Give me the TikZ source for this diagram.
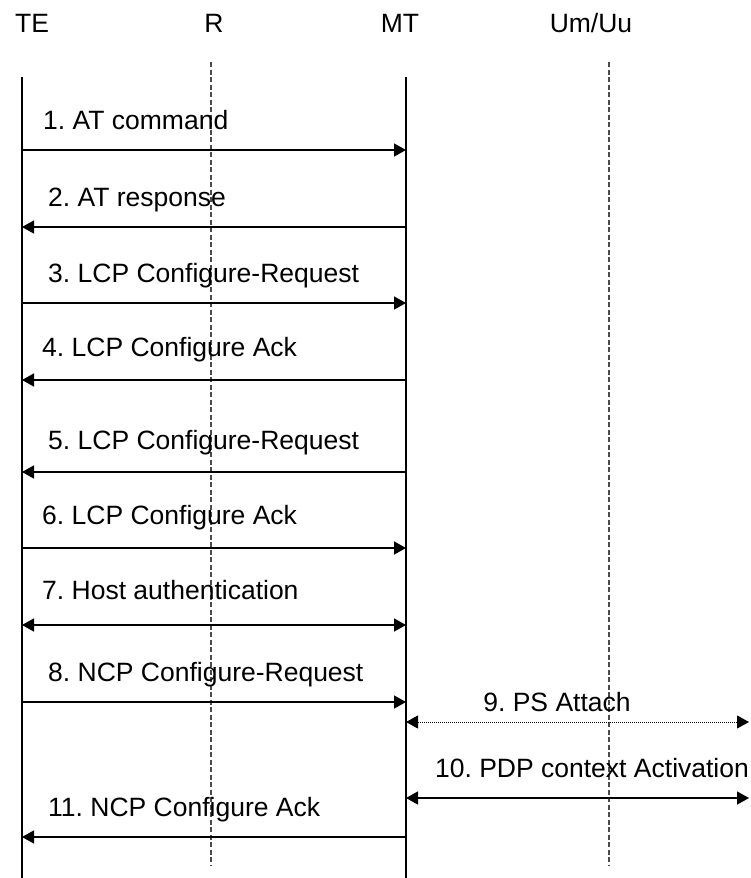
\documentclass[tikz,border=0pt]{standalone}
\usepackage{fontspec}
\setmainfont{Liberation Sans}
\usetikzlibrary{arrows.meta, positioning}
\frenchspacing

\begin{document}
\begin{tikzpicture}[x=1pt, y=-1pt,
    entity/.style={font=\fontsize{26.5}{30}\selectfont, inner sep=0pt, anchor=base},
    lbl/.style={font=\fontsize{26.5}{30}\selectfont, inner sep=0pt, anchor=base west},
    life/.style={line width=2pt},
    iface/.style={line width=1.1pt, gray!60!black, dash pattern=on 5pt off 2.5pt},
    msg/.style={line width=1.6pt, -{Triangle[length=12pt,width=13pt]}},
    dmsg/.style={msg, {Triangle[length=12pt,width=13pt]}-{Triangle[length=12pt,width=13pt]}},
    ]
    \useasboundingbox (0,0) rectangle (750,878);

    % entities
    \node[entity] (TE) at (32,32) {TE};
    \node[entity] (R) at (214,32) {R};
    \node[entity] (MT) at (400,32) {MT};
    \node[entity] (Um) at (591,32) {Um/Uu};

    % life lines and interfaces
    \coordinate (TEtop) at (22,77);
    \coordinate (TEbot) at (22,878);
    \coordinate (MTtop) at (406,77);
    \coordinate (MTbot) at (406,878);
    \coordinate (Rtop) at (211,62);
    \coordinate (Rbot) at (211,865);
    \coordinate (Umtop) at (609,62);
    \coordinate (Umbot) at (609,865);
    \coordinate (edge) at (749,0);

    \draw[iface] (Rtop) -- (Rbot);
    \draw[iface] (Umtop) -- (Umbot);
    \draw[life] (TEtop) -- (TEbot);
    \draw[life] (MTtop) -- (MTbot);

    % message rows
    \coordinate (r1) at (0,150);
    \coordinate (r2) at (0,227);
    \coordinate (r3) at (0,303);
    \coordinate (r4) at (0,380);
    \coordinate (r5) at (0,472);
    \coordinate (r6) at (0,548);
    \coordinate (r7) at (0,625);
    \coordinate (r8) at (0,702);
    \coordinate (r9) at (0,722);
    \coordinate (r10) at (0,798);
    \coordinate (r11) at (0,837);

    \draw[msg] (TEtop |- r1) -- (MTtop |- r1);
    \draw[msg] (MTtop |- r2) -- (TEtop |- r2);
    \draw[msg] (TEtop |- r3) -- (MTtop |- r3);
    \draw[msg] (MTtop |- r4) -- (TEtop |- r4);
    \draw[msg] (MTtop |- r5) -- (TEtop |- r5);
    \draw[msg] (TEtop |- r6) -- (MTtop |- r6);
    \draw[dmsg] (TEtop |- r7) -- (MTtop |- r7);
    \draw[msg] (TEtop |- r8) -- (MTtop |- r8);
    \draw[dmsg, line width=0.9pt, dash pattern=on 1pt off 1pt] (MTtop |- r9) -- (edge |- r9);
    \draw[dmsg] (MTtop |- r10) -- (edge |- r10);
    \draw[msg] (MTtop |- r11) -- (TEtop |- r11);

    % labels
    \node[lbl] (l1) at (43,129.5) {1. AT command};
    \node[lbl] (l2) at (48,206.5) {2. AT response};
    \node[lbl] (l3) at (48,282.5) {3. LCP Configure-Request};
    \node[lbl] (l4) at (42,356.5) {4. LCP Configure Ack};
    \node[lbl] (l5) at (48,449.5) {5. LCP Configure-Request};
    \node[lbl] (l6) at (42,524.5) {6. LCP Configure Ack};
    \node[lbl] (l7) at (42,599.5) {7. Host authentication};
    \node[lbl] (l8) at (48,681.5) {8. NCP Configure-Request};
    \node[lbl, anchor=base] (l9) at (557,711.5) {9. PS Attach};
    \node[lbl, anchor=base] (l10) at (592,777.5) {10. PDP context Activation};
    \node[lbl] (l11) at (48,816.5) {11. NCP Configure Ack};
\end{tikzpicture}
\end{document}
